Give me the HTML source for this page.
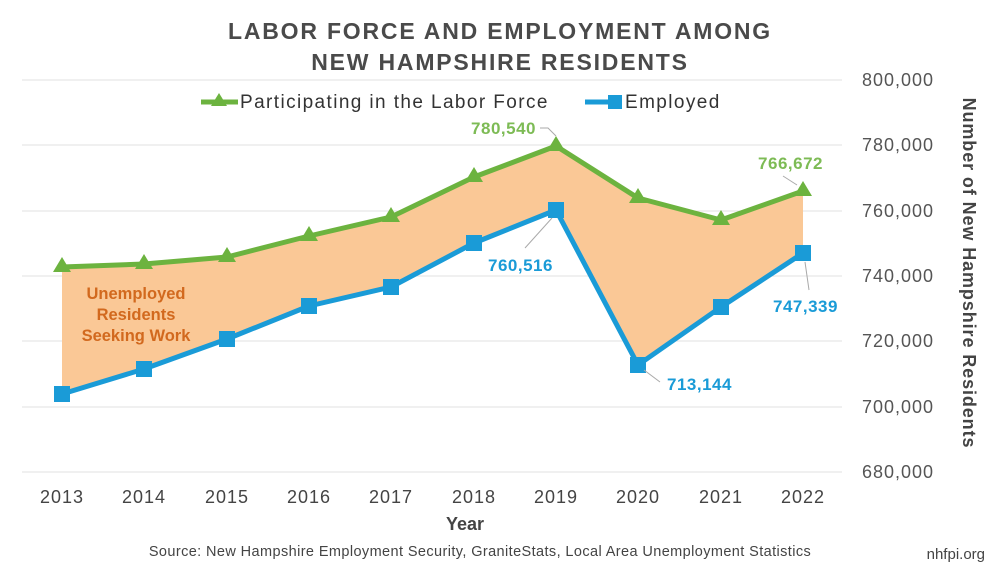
<!DOCTYPE html>
<html><head><meta charset="utf-8"><style>
html,body{margin:0;padding:0;background:#fff;}
svg{display:block;font-family:"Liberation Sans",sans-serif;}
</style></head><body>
<svg width="1000" height="574" viewBox="0 0 1000 574" xmlns="http://www.w3.org/2000/svg">
<rect width="1000" height="574" fill="#fff"/>
<text x="500" y="39" text-anchor="middle" font-size="23" font-weight="bold" fill="#4a4a4a" letter-spacing="1.8">LABOR FORCE AND EMPLOYMENT AMONG</text>
<text x="500" y="70" text-anchor="middle" font-size="23" font-weight="bold" fill="#4a4a4a" letter-spacing="1.8">NEW HAMPSHIRE RESIDENTS</text>
<g stroke="#e2e2e2" stroke-width="1">
<line x1="22" x2="842" y1="80" y2="80"/><line x1="22" x2="842" y1="145" y2="145"/>
<line x1="22" x2="842" y1="211" y2="211"/><line x1="22" x2="842" y1="276" y2="276"/>
<line x1="22" x2="842" y1="341" y2="341"/><line x1="22" x2="842" y1="407" y2="407"/>
<line x1="22" x2="842" y1="472" y2="472"/>
</g>
<g font-size="18" fill="#555" letter-spacing="1">
<text x="862" y="86">800,000</text><text x="862" y="151">780,000</text><text x="862" y="217">760,000</text>
<text x="862" y="282">740,000</text><text x="862" y="347">720,000</text><text x="862" y="413">700,000</text>
<text x="862" y="478">680,000</text>
</g>
<text transform="translate(963,273) rotate(90)" text-anchor="middle" font-size="18" font-weight="bold" fill="#444" letter-spacing="0.9">Number of New Hampshire Residents</text>
<g font-size="18" fill="#444" text-anchor="middle" letter-spacing="1">
<text x="62" y="503">2013</text><text x="144" y="503">2014</text><text x="227" y="503">2015</text>
<text x="309" y="503">2016</text><text x="391" y="503">2017</text><text x="474" y="503">2018</text>
<text x="556" y="503">2019</text><text x="638" y="503">2020</text><text x="721" y="503">2021</text>
<text x="803" y="503">2022</text>
</g>
<text x="465" y="530" text-anchor="middle" font-size="18" font-weight="bold" fill="#444">Year</text>
<text x="480" y="556" text-anchor="middle" font-size="14.5" fill="#444" letter-spacing="0.4">Source: New Hampshire Employment Security, GraniteStats, Local Area Unemployment Statistics</text>
<text x="985" y="559" text-anchor="end" font-size="15" fill="#444">nhfpi.org</text>
<polygon fill="#fac896" points="62,267 144,264 227,257 309,236 391,217 474,177 556,146 638,198 721,220 803,191 803,253 721,307 638,365 556,210 474,243 391,287 309,306 227,339 144,369 62,394"/>
<polyline fill="none" stroke="#6cb33f" stroke-width="5" stroke-linejoin="round" points="62,267 144,264 227,257 309,236 391,217 474,177 556,146 638,198 721,220 803,191"/>
<polyline fill="none" stroke="#1a9bd7" stroke-width="5" stroke-linejoin="round" points="62,394 144,369 227,339 309,306 391,287 474,243 556,210 638,365 721,307 803,253"/>
<g fill="#6cb33f">
<path d="M62,257 l9,15 h-18z"/><path d="M144,254 l9,15 h-18z"/><path d="M227,247 l9,15 h-18z"/>
<path d="M309,226 l9,15 h-18z"/><path d="M391,207 l9,15 h-18z"/><path d="M474,167 l9,15 h-18z"/>
<path d="M556,136 l9,15 h-18z"/><path d="M638,188 l9,15 h-18z"/><path d="M721,210 l9,15 h-18z"/>
<path d="M803,181 l9,15 h-18z"/>
</g>
<g fill="#1a9bd7">
<rect x="54" y="386" width="16" height="16"/><rect x="136" y="361" width="16" height="16"/><rect x="219" y="331" width="16" height="16"/>
<rect x="301" y="298" width="16" height="16"/><rect x="383" y="279" width="16" height="16"/><rect x="466" y="235" width="16" height="16"/>
<rect x="548" y="202" width="16" height="16"/><rect x="630" y="357" width="16" height="16"/><rect x="713" y="299" width="16" height="16"/>
<rect x="795" y="245" width="16" height="16"/>
</g>
<g stroke="#aaa" stroke-width="1" fill="none">
<polyline points="540,128 548,128 556,136"/><line x1="525" y1="248" x2="552" y2="218"/>
<polyline points="783,176 797,185"/><line x1="644" y1="370" x2="660" y2="382"/><line x1="805" y1="262" x2="809" y2="290"/>
</g>
<g font-size="17" font-weight="bold" letter-spacing="0.5">
<text x="536" y="134" text-anchor="end" fill="#7dbb55">780,540</text>
<text x="488" y="271" fill="#1a9bd7">760,516</text>
<text x="823" y="169" text-anchor="end" fill="#7dbb55">766,672</text>
<text x="667" y="390" fill="#1a9bd7">713,144</text>
<text x="773" y="312" fill="#1a9bd7">747,339</text>
</g>
<g font-size="16.5" font-weight="bold" fill="#d2691e" text-anchor="middle">
<text x="136" y="299">Unemployed</text><text x="136" y="320">Residents</text><text x="136" y="341">Seeking Work</text>
</g>
<line x1="201" y1="102" x2="238" y2="102" stroke="#6cb33f" stroke-width="5"/>
<path d="M219,93 l8,13 h-16z" fill="#6cb33f"/>
<text x="240" y="108" font-size="19" fill="#333" letter-spacing="1.4">Participating in the Labor Force</text>
<line x1="585" y1="102" x2="620" y2="102" stroke="#1a9bd7" stroke-width="5"/>
<rect x="608" y="95" width="14" height="14" fill="#1a9bd7"/>
<text x="625" y="108" font-size="19" fill="#333" letter-spacing="1.4">Employed</text>
</svg>
</body></html>
